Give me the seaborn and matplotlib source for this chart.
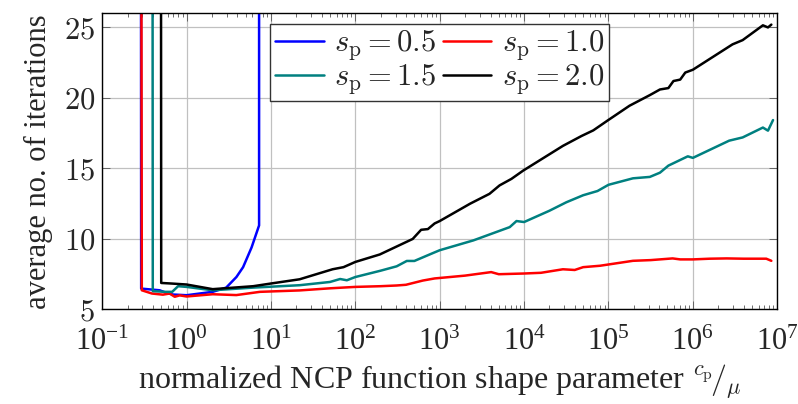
import numpy as np
import pandas as pd
import matplotlib
matplotlib.use("Agg")
import matplotlib.pyplot as plt
import matplotlib.ticker as mticker
import seaborn as sns

# ---- data (x = c_p/mu, y = average number of iterations) ----
blue_x = [0.285, 0.29, 0.48, 0.58, 0.69, 1.0, 2.04, 2.95, 3.9, 4.68, 5.9, 7.24, 7.25]
blue_y = [100, 6.48, 6.36, 6.17, 6.06, 6.01, 6.25, 6.55, 7.3, 8.0, 9.4, 10.96, 100]

red_logx = [-0.55, -0.53, -0.41, -0.28, -0.2, -0.14, -0.08, 0.0, 0.31, 0.59, 0.87, 1.34, 1.7,
            2.0, 2.3, 2.49, 2.6, 2.8, 2.94, 3.3, 3.61, 3.7, 4.0, 4.2, 4.46, 4.6, 4.7, 4.9,
            5.29, 5.5, 5.76, 5.85, 6.0, 6.2, 6.4, 6.6, 6.87, 6.93]
red_y = [100, 6.36, 6.13, 6.05, 6.13, 5.9, 6.0, 5.92, 6.08, 6.02, 6.25, 6.35, 6.5,
         6.6, 6.65, 6.7, 6.75, 7.05, 7.2, 7.4, 7.65, 7.5, 7.55, 7.6, 7.85, 7.8, 8.0, 8.1,
         8.45, 8.5, 8.62, 8.55, 8.55, 8.6, 8.62, 8.6, 8.6, 8.45]

teal_logx = [-0.41, -0.40, -0.25, -0.17, -0.1, 0.0, 0.31, 0.79, 1.34, 1.7, 1.82, 1.9, 2.0,
             2.3, 2.49, 2.61, 2.7, 2.92, 3.0, 3.4, 3.83, 3.91, 4.0, 4.3, 4.5, 4.7, 4.87,
             5.0, 5.29, 5.49, 5.61, 5.71, 5.94, 6.0, 6.43, 6.59, 6.83, 6.89, 6.95]
teal_y = [100, 6.3, 6.25, 6.25, 6.65, 6.6, 6.36, 6.55, 6.72, 6.95, 7.16, 7.07, 7.3,
          7.75, 8.06, 8.44, 8.44, 9.0, 9.2, 9.9, 10.84, 11.27, 11.2, 12.0, 12.6, 13.1, 13.4,
          13.84, 14.3, 14.4, 14.7, 15.2, 15.86, 15.75, 16.97, 17.2, 17.9, 17.68, 18.43]

black_logx = [-0.31, -0.30, -0.18, 0.0, 0.31, 0.79, 1.0, 1.34, 1.73, 1.86, 2.0, 2.29, 2.68,
              2.78, 2.86, 2.94, 3.0, 3.36, 3.59, 3.71, 3.85, 3.99, 4.46, 4.68, 4.82, 4.99,
              5.25, 5.49, 5.61, 5.71, 5.77, 5.85, 5.91, 6.0, 6.47, 6.59, 6.83, 6.89, 6.93]
black_y = [100, 6.88, 6.84, 6.77, 6.44, 6.65, 6.84, 7.14, 7.85, 8.0, 8.37, 8.9, 10.0,
           10.65, 10.7, 11.1, 11.27, 12.5, 13.2, 13.8, 14.26, 14.85, 16.6, 17.3, 17.7, 18.4,
           19.45, 20.2, 20.6, 20.7, 21.2, 21.3, 21.8, 22.0, 23.8, 24.1, 25.15, 25.0, 25.2]

labels = [r"$s_\mathrm{p} = 0.5$", r"$s_\mathrm{p} = 1.0$",
          r"$s_\mathrm{p} = 1.5$", r"$s_\mathrm{p} = 2.0$"]
colors = ["#0000ff", "#ff0000", "#008080", "#000000"]

series = [
    (np.array(blue_x), blue_y),
    (10 ** np.array(red_logx), red_y),
    (10 ** np.array(teal_logx), teal_y),
    (10 ** np.array(black_logx), black_y),
]
frames = []
for lab, (xs, ys) in zip(labels, series):
    frames.append(pd.DataFrame({"x": xs, "y": ys, "s": lab}))
df = pd.concat(frames, ignore_index=True)

sns.set_theme(style="ticks")
plt.rcParams["font.family"] = ["Liberation Serif", "DejaVu Serif"]
plt.rcParams["mathtext.fontset"] = "cm"

fig = plt.figure(figsize=(7.98, 4.04), dpi=100)
ax = fig.add_axes([0.128, 0.234, 0.846, 0.733])

sns.lineplot(data=df, x="x", y="y", hue="s", hue_order=labels, palette=colors,
             sort=False, estimator=None, linewidth=1.8, ax=ax, legend=False)

ax.set_xscale("log")
ax.set_xlim(1e-1, 1e7)
ax.set_ylim(5, 26)
ax.set_xticks([10.0 ** k for k in range(-1, 8)])
ax.xaxis.set_major_formatter(mticker.LogFormatterSciNotation())
ax.xaxis.set_minor_locator(mticker.LogLocator(base=10, subs=np.arange(2, 10), numticks=100))
ax.xaxis.set_minor_formatter(mticker.NullFormatter())
ax.set_yticks([5, 10, 15, 20, 25])
ax.yaxis.set_major_formatter(mticker.FuncFormatter(lambda v, p: r"$%d$" % v))

ax.grid(True, which="major", color="#c0c0c0", linewidth=0.9)
ax.tick_params(which="both", direction="in", top=True, right=True, labelsize=22,
               width=0.6, color="#555555")
ax.tick_params(which="major", length=6)
ax.tick_params(which="minor", length=3)
ax.tick_params(axis="x", pad=13)
ax.tick_params(axis="y", pad=5)
for sp in ax.spines.values():
    sp.set_linewidth(1.0)
    sp.set_color("black")

ax.set_xlabel(r"normalized NCP function shape parameter ${}^{c_\mathrm{p}}\!/_{\mu}$",
              fontsize=23, labelpad=4)
ax.set_ylabel("average no. of iterations", fontsize=22, labelpad=8)

handles = [plt.Line2D([], [], color=c, linewidth=1.8) for c in colors]
order = [0, 2, 1, 3]
leg = ax.legend([handles[i] for i in order], [labels[i] for i in order], ncol=2,
                loc="upper center", bbox_to_anchor=(0.5, 0.985), fontsize=22,
                frameon=True, fancybox=False, framealpha=1, edgecolor="#333333",
                handlelength=1.6, handletextpad=0.35, columnspacing=0.2,
                labelspacing=0.0, borderpad=0.15, borderaxespad=0.2)
leg.get_frame().set_linewidth(1.0)

fig.savefig("out.png", dpi=100)
